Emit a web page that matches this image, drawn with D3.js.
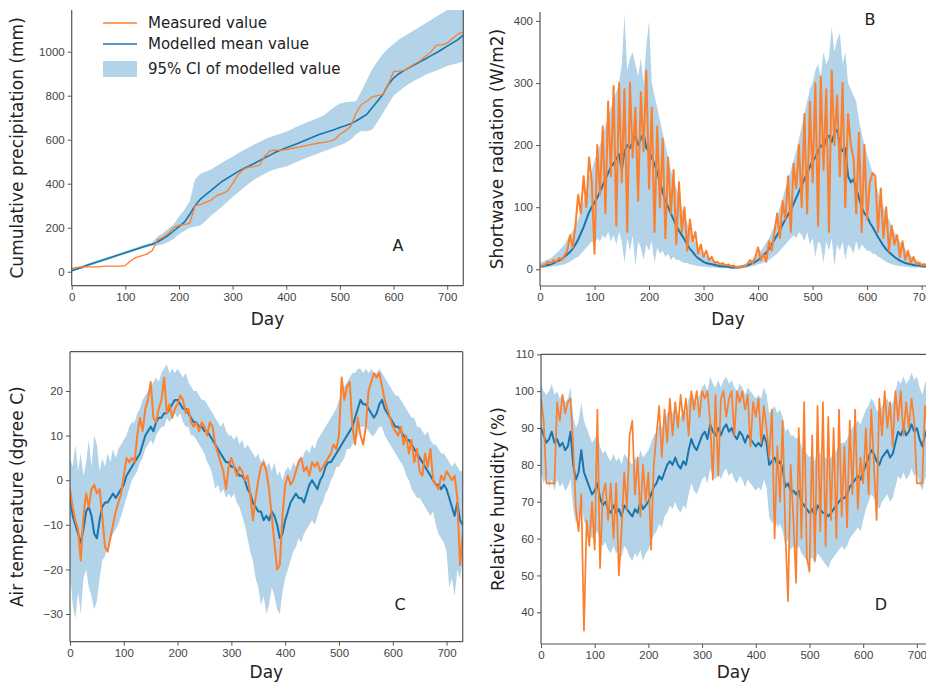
<!DOCTYPE html>
<html>
<head>
<meta charset="utf-8">
<script src="https://cdn.jsdelivr.net/npm/d3@7"></script>
<style>
  body { margin: 0; background: #fff; }
  svg { font-family: "DejaVu Sans", sans-serif; }
</style>
</head>
<body>
<svg id="chart" width="926" height="687"></svg>
<script>
// ---- data ----
// panel A is sampled every 10 days, panels B-D every 5 days
const daysA = d3.range(0, 731, 10);
const days5 = d3.range(0, 731, 5);

// A: cumulative precipitation (mm)
const precipMeasured = [
  15, 20, 22, 22, 22, 22, 25, 25, 25, 25,
  28, 50, 65, 72, 80, 95, 145, 155, 175, 200,
  210, 215, 220, 300, 305, 315, 325, 345, 355, 365,
  400, 440, 465, 475, 478, 485, 525, 550, 552, 552,
  555, 560, 565, 570, 575, 580, 585, 588, 592, 600,
  625, 640, 660, 720, 760, 775, 795, 800, 805, 850,
  910, 912, 915, 930, 945, 960, 980, 1000, 1030, 1030,
  1040, 1060, 1080, 1090
];
const precipModel = [
  5, 12, 20, 30, 38, 46, 54, 62, 70, 78,
  86, 94, 102, 110, 118, 125, 135, 150, 165, 185,
  205, 225, 260, 300, 330, 350, 370, 390, 410, 425,
  440, 455, 468, 480, 492, 505, 518, 530, 543, 553,
  563, 572, 582, 592, 602, 612, 622, 630, 638, 646,
  655, 663, 672, 685, 700, 715, 745, 775, 805, 850,
  880, 900, 915, 928, 942, 955, 968, 982, 995, 1010,
  1025, 1040, 1055, 1075
];
const precipLow = [
  0, 8, 15, 25, 32, 40, 48, 56, 64, 72,
  80, 88, 96, 104, 111, 118, 120, 125, 135, 150,
  170, 185, 200, 205, 210, 232, 255, 275, 295, 318,
  340, 360, 380, 400, 418, 432, 445, 458, 467, 473,
  478, 488, 500, 510, 520, 528, 538, 548, 557, 566,
  575, 585, 600, 625, 640, 638, 645, 680, 720, 760,
  800, 820, 840, 855, 870, 882, 895, 905, 915, 925,
  935, 942, 948, 955
];
const precipHigh = [
  12, 20, 28, 37, 45, 53, 61, 69, 77, 85,
  94, 102, 110, 118, 126, 133, 160, 175, 195, 215,
  250, 280, 320, 420, 445, 455, 465, 480, 495, 510,
  522, 538, 552, 565, 578, 590, 602, 612, 620, 628,
  636, 648, 660, 670, 680, 690, 700, 710, 730, 750,
  765, 770, 772, 775, 820, 870, 920, 955, 990, 1015,
  1035, 1055, 1070, 1085, 1100, 1115, 1130, 1145, 1160, 1175,
  1190, 1205, 1220, 1240
];

// B: shortwave radiation (W/m2)
const radMeasured = [
  5, 6, 8, 12, 10, 15, 12, 18, 15, 22,
  30, 55, 35, 70, 120, 90, 150, 100, 180, 140,
  25, 200, 120, 230, 90, 270, 150, 295, 70, 300,
  140, 290, 60, 300, 180, 260, 110, 285, 190, 320,
  130, 260, 60, 230, 100, 210, 50, 180, 90, 160,
  40, 140, 60, 100, 30, 80, 45, 60, 25, 40,
  20, 30, 15, 20, 10, 12, 8, 10, 6, 8,
  5, 6, 3, 4, 3, 5, 8, 15, 10, 20,
  35, 15, 25, 12, 45, 30, 60, 90, 50, 110,
  80, 150, 60, 170, 130, 200, 100, 250, 90, 270,
  140, 300, 70, 310, 160, 290, 60, 320, 200, 280,
  150, 300, 100, 250, 200, 180, 90, 220, 60, 200,
  80, 140, 155, 150, 60, 130, 50, 100, 30, 70,
  40, 55, 20, 45, 15, 30, 10, 20, 8, 10,
  6, 8, 5, 6, 5, 5, 5
];
const radModel = [
  5, 5, 6, 7, 8, 10, 12, 14, 17, 20,
  24, 28, 33, 40, 48, 58, 68, 80, 92, 100,
  108, 115, 125, 135, 145, 155, 165, 170, 178, 185,
  160, 190, 200, 195, 205, 215, 200, 210, 220, 195,
  190, 180, 170, 155, 140, 125, 110, 100, 90, 80,
  70, 62, 55, 48, 40, 33, 28, 22, 18, 15,
  12, 10, 9, 8, 7, 6, 5, 5, 4, 4,
  3, 3, 3, 3, 4, 5, 6, 8, 10, 12,
  15, 18, 22, 27, 33, 40, 48, 55, 63, 72,
  80, 88, 95, 105, 115, 125, 135, 145, 155, 165,
  175, 180, 190, 200, 195, 210, 215, 205, 220, 225,
  200, 190, 195, 150, 140, 145, 130, 115, 100, 90,
  85, 75, 68, 60, 52, 45, 38, 32, 28, 24,
  20, 17, 14, 12, 10, 9, 8, 7, 6, 6,
  5, 5, 5, 5, 5, 5, 5
];
const radLow = [
  2, 2, 3, 3, 4, 5, 5, 6, 7, 8,
  10, 12, 15, 18, 20, 25, 30, 35, 40, 45,
  40, 50, 45, 55, 50, 60, 45, 55, 40, 60,
  45, 10, 50, 30, 55, 5, 45, 35, 15, 40,
  30, 45, 10, 35, 25, 30, 20, 25, 15, 20,
  15, 15, 12, 10, 10, 8, 7, 6, 5, 5,
  4, 4, 3, 3, 3, 2, 2, 2, 2, 2,
  1, 1, 1, 1, 2, 2, 3, 4, 5, 6,
  8, 9, 11, 13, 15, 18, 22, 25, 30, 35,
  40, 45, 50, 55, 50, 60, 55, 45, 60, 40,
  50, 20, 45, 40, 10, 45, 30, 50, 5, 40,
  30, 45, 15, 40, 35, 25, 45, 30, 40, 35,
  30, 30, 25, 25, 20, 18, 15, 12, 10, 8,
  7, 6, 5, 5, 4, 4, 3, 3, 3, 3,
  2, 2, 2, 2, 2, 2, 2
];
const radHigh = [
  10, 12, 14, 16, 18, 22, 26, 30, 35, 40,
  48, 55, 62, 70, 80, 95, 110, 125, 150, 160,
  175, 190, 200, 215, 230, 245, 260, 275, 285, 300,
  330, 410, 320, 340, 350, 330, 310, 340, 300, 360,
  400, 300, 280, 260, 240, 220, 200, 180, 160, 145,
  130, 115, 100, 88, 75, 62, 52, 44, 36, 30,
  25, 22, 19, 16, 14, 12, 10, 9, 8, 7,
  6, 6, 6, 6, 7, 8, 10, 13, 16, 20,
  25, 30, 36, 43, 50, 60, 70, 85, 100, 115,
  130, 145, 160, 175, 190, 210, 230, 250, 270, 290,
  300, 320, 330, 310, 350, 330, 340, 390, 350, 370,
  380, 330, 350, 300, 290, 280, 270, 240, 220, 200,
  185, 170, 155, 140, 125, 110, 100, 90, 80, 70,
  60, 52, 45, 38, 32, 27, 22, 18, 15, 13,
  11, 10, 9, 8, 8, 8, 8
];

// C: air temperature (degree C)
const tempMeasured = [
  -2, -6, -9, -11, -18, -8, -3, -6, -2, -1,
  -3, -2, -8, -15, -16, -13, -10, -7, -5, -3,
  1, 5, 4, 5, 4, 10, 14, 11, 16, 18,
  22, 14, 13, 16, 18, 23, 15, 17, 14, 16,
  17, 19, 18, 15, 16, 13, 12, 13, 11, 13,
  12, 10, 13, 12, 8, 6, 4, 2, -2, 3,
  5, 3, 1, 3, 2, 0, 1, -3, -9, -4,
  0, 3, 4, 2, -2, -8, -14, -20, -19, -8,
  -1, 1, -1, 0, 2, 4, 5, 2, 3, 1,
  4, 3, 4, 2, 3, 4, 5, 6, 8, 7,
  10, 23, 18, 21, 22, 12, 8, 14, 10, 8,
  12, 20, 22, 24, 23, 24, 21, 18, 16, 14,
  12, 11, 10, 12, 8, 10, 6, 9, 4, 7,
  2, 1, 6, 3, 7, 0, -1, -2, 1, 0,
  2, 1, 0, 1, -4, -19, -12
];
const tempModel = [
  -4, -8, -10, -12, -14, -11, -7, -6, -8, -12,
  -13, -9, -6, -5, -5, -4, -3, -4, -3, -2,
  -1, 1, 2, 3, 4, 5, 6, 8, 10, 11,
  12, 11, 13, 14, 14, 15, 15, 16, 17, 18,
  18, 17, 16, 16, 15, 14, 13, 13, 12, 12,
  11, 11, 10, 9, 8, 7, 6, 5, 4, 4,
  3, 3, 2, 1, 1, 0, -2, -3, -5, -6,
  -7, -7, -9, -8, -9, -7, -8, -10, -13, -12,
  -9, -7, -5, -4, -3, -4, -4, -5, -3, -1,
  0, -1, -2, 0, 1, 3, 4, 4, 5, 6,
  7, 8, 9, 10, 11, 12, 14, 16, 18, 17,
  17, 16, 15, 14, 15, 17, 18, 16, 15, 14,
  13, 12, 12, 11, 10, 9, 9, 8, 7, 6,
  5, 4, 3, 2, 1, 0, -1, -1, -2, -1,
  -2, -4, -6, -8, -5, -9, -10
];
const tempLow = [
  -20, -28, -31, -25, -30, -22, -20, -24, -26, -29,
  -27, -22, -18, -17, -15, -13, -12, -11, -10, -8,
  -6, -4, -2, 0, 1, 2, 4, 5, 7, 8,
  9, 8, 10, 11, 12, 12, 14, 13, 14, 15,
  14, 15, 13, 12, 12, 10, 10, 9, 8, 7,
  6, 4, 3, 1, -2, -1, -3, -2, -4, -3,
  -4, -3, -5, -6, -8, -10, -13, -16, -18, -22,
  -24, -28, -26, -30, -28, -24, -26, -29, -30, -25,
  -22, -20, -18, -16, -15, -13, -14, -12, -11, -10,
  -9, -10, -8, -6, -5, -3, -2, 0, 1, 3,
  3, 4, 5, 7, 7, 8, 9, 10, 12, 12,
  12, 11, 10, 10, 11, 12, 12, 10, 9, 8,
  7, 6, 5, 4, 3, 1, 0, -2, -3, -4,
  -4, -5, -6, -7, -8, -7, -10, -12, -13, -14,
  -16, -24, -22, -26, -20, -22, -18
];
const tempHigh = [
  5, 3, 8, 2, 6, 1, 4, 9, 3, 10,
  8, 2, 5, 3, 6, 4, 7, 5, 7, 8,
  9, 10, 12, 13, 13, 15, 16, 18, 19, 20,
  21, 22, 23, 22, 24, 25, 26, 24, 25, 24,
  25, 24, 23, 24, 22, 21, 20, 20, 19, 18,
  18, 17, 16, 15, 14, 13, 12, 13, 11, 10,
  10, 9, 10, 8, 9, 7, 8, 7, 6, 5,
  6, 4, 5, 3, 4, 2, 4, 1, 2, 0,
  2, 3, 2, 4, 3, 5, 4, 6, 7, 6,
  8, 7, 9, 10, 11, 12, 13, 14, 15, 16,
  18, 19, 21, 22, 23, 24, 24, 25, 25, 24,
  25, 24, 25, 24, 24, 25, 24, 23, 22, 21,
  20, 19, 19, 18, 17, 16, 15, 14, 14, 12,
  12, 11, 10, 11, 9, 8, 8, 7, 6, 6,
  5, 4, 3, 4, 3, 2, 2
];

// D: relative humidity (%)
const rhMeasured = [
  98, 92, 75, 75, 75, 75, 97, 92, 99, 94,
  97, 98, 85, 68, 62, 72, 35, 65, 58, 70,
  57, 95, 52, 72, 75, 65, 75, 60, 75, 50,
  62, 78, 68, 88, 92, 72, 82, 66, 80, 70,
  78, 57, 80, 88, 96, 82, 95, 86, 98, 88,
  97, 90, 99, 92, 98, 88, 100, 95, 100, 93,
  100, 98, 100, 92, 76, 99, 77, 98, 100, 93,
  98, 100, 88, 100, 97, 100, 95, 99, 85, 97,
  93, 98, 86, 96, 90, 82, 95, 60, 85, 70,
  92, 62, 43, 80, 65, 48, 90, 60, 97, 55,
  51, 88, 54, 96, 62, 97, 58, 93, 65, 90,
  60, 95, 66, 85, 63, 92, 72, 95, 68, 82,
  75, 90, 72, 95, 80, 65, 98, 88, 100, 90,
  97, 85, 100, 92, 100, 88, 97, 90, 98, 92,
  75, 75, 75, 96, 90, 98, 92
];
const rhModel = [
  90, 88, 86, 87, 89, 86, 87, 85, 86, 84,
  85, 89, 80, 76, 78, 84, 78, 76, 74, 72,
  73, 75, 71, 69, 70, 68, 67, 69, 67, 68,
  66, 69, 68, 67, 66, 68, 67, 70, 68, 69,
  70, 72, 74, 75, 77, 76, 78, 80, 81, 80,
  82, 80, 79, 81, 80, 84, 87, 85, 84, 86,
  88, 89, 87, 91, 89, 88, 90, 88, 90, 91,
  89, 90, 88, 87, 89, 88, 86, 88, 87, 86,
  85, 86, 85, 88, 86, 80, 81, 82, 80, 81,
  79, 74, 75, 73, 73, 72, 73, 70, 69, 68,
  67, 68, 66, 69, 68, 67, 67, 66, 67, 68,
  69, 70, 71, 71, 72, 74, 75, 76, 77, 76,
  78, 80, 82, 84, 83, 81, 80, 82, 83, 84,
  82, 83, 86, 89, 88, 90, 88, 89, 91, 89,
  90, 87, 85, 88, 90, 89, 88
];
const rhLow = [
  78, 75, 77, 74, 76, 73, 76, 74, 75, 73,
  74, 76, 68, 64, 66, 70, 65, 63, 62, 60,
  61, 62, 59, 58, 59, 57, 56, 58, 56, 57,
  55, 58, 57, 55, 54, 56, 55, 57, 54, 56,
  57, 59, 61, 62, 64, 63, 66, 67, 69, 68,
  70, 68, 67, 69, 68, 72, 75, 73, 72, 74,
  76, 77, 75, 79, 77, 76, 78, 76, 78, 79,
  77, 78, 76, 75, 77, 76, 74, 76, 75, 74,
  73, 74, 73, 76, 74, 66, 64, 66, 63, 64,
  62, 58, 60, 57, 58, 57, 58, 56, 55, 54,
  54, 55, 53, 56, 55, 54, 53, 52, 54, 55,
  56, 57, 58, 57, 58, 60, 61, 62, 63, 62,
  65, 68, 70, 72, 71, 69, 68, 70, 71, 72,
  70, 71, 74, 77, 76, 78, 76, 77, 79, 77,
  78, 75, 73, 76, 78, 77, 76
];
const rhHigh = [
  102, 100, 99, 100, 102, 99, 100, 98, 99, 97,
  98, 101, 93, 90, 92, 97, 92, 90, 88, 86,
  87, 89, 85, 83, 84, 82, 81, 83, 81, 82,
  80, 83, 82, 81, 80, 82, 81, 84, 82, 83,
  84, 86, 88, 89, 91, 90, 92, 94, 95, 94,
  96, 94, 93, 95, 94, 98, 100, 98, 97, 99,
  101, 102, 100, 104, 102, 101, 103, 101, 103, 104,
  102, 103, 101, 100, 102, 101, 99, 101, 100, 99,
  98, 99, 98, 101, 99, 94, 95, 96, 94, 95,
  93, 89, 90, 88, 88, 87, 88, 85, 84, 83,
  82, 83, 81, 84, 83, 82, 82, 81, 82, 83,
  84, 85, 86, 86, 87, 89, 90, 91, 92, 91,
  93, 95, 96, 98, 97, 95, 94, 96, 97, 98,
  96, 97, 100, 103, 102, 104, 102, 103, 105, 103,
  104, 101, 99, 102, 104, 103, 102
];

const xTicks = [0, 100, 200, 300, 400, 500, 600, 700];

// ---- styling ----
const orange = '#fb7f2c';
const blue = '#1b75ad';
const bandColor = '#b2d3e8';
const spineColor = '#555';

const svg = d3.select('#chart');

const panels = [
  {
    id: 'A', days: daysA, measured: precipMeasured, model: precipModel, low: precipLow, high: precipHigh,
    left: 71.7, right: 463.3, top: 10, bottom: 285.7, yDomain: [-63.6, 1189.5],
    yTicks: [0, 200, 400, 600, 800, 1000], yLabel: 'Cumulative precipitation (mm)',
    yLabelX: 18, dayY: 320, letterPos: [398, 246], spines: ['left', 'bottom', 'right'],
    lwMeasured: 1.3, lwModel: 1.6
  },
  {
    id: 'B', days: days5, measured: radMeasured, model: radModel, low: radLow, high: radHigh,
    left: 540, right: 938, top: 12, bottom: 286, yDomain: [-26.9, 414.3],
    yTicks: [0, 100, 200, 300, 400], yLabel: 'Shortwave radiation (W/m2)',
    yLabelX: 498, dayY: 320, letterPos: [870, 20], spines: ['left', 'bottom'],
    lwMeasured: 2, lwModel: 2
  },
  {
    id: 'C', days: days5, measured: tempMeasured, model: tempModel, low: tempLow, high: tempHigh,
    left: 70, right: 462.7, top: 351.7, bottom: 641.7, yDomain: [-36.2, 28.8],
    yTicks: [-30, -20, -10, 0, 10, 20], yLabel: 'Air temperature (dgree C)',
    yLabelX: 18, dayY: 673, letterPos: [400, 605], spines: ['left', 'bottom', 'right', 'top'],
    lwMeasured: 2, lwModel: 2
  },
  {
    id: 'D', days: days5, measured: rhMeasured, model: rhModel, low: rhLow, high: rhHigh,
    left: 541, right: 933, top: 354.3, bottom: 644, yDomain: [31.4, 110],
    yTicks: [40, 50, 60, 70, 80, 90, 100, 110], yLabel: 'Relative humidity (%)',
    yLabelX: 499, dayY: 673, letterPos: [881, 605], spines: ['left', 'bottom', 'right', 'top'],
    lwMeasured: 1.7, lwModel: 2
  }
];

function drawPanel(p) {
  const g = svg.append('g').attr('class', 'panel-' + p.id);
  const x = d3.scaleLinear().domain([0, 730]).range([p.left, p.right]);
  const y = d3.scaleLinear().domain(p.yDomain).range([p.bottom, p.top]);

  const rows = p.days.map((d, i) => ({
    day: d, measured: p.measured[i], model: p.model[i], low: p.low[i], high: p.high[i]
  }));

  svg.append('clipPath').attr('id', 'clip-' + p.id)
    .append('rect')
    .attr('x', p.left).attr('y', p.top)
    .attr('width', p.right - p.left).attr('height', p.bottom - p.top);

  const plot = g.append('g').attr('clip-path', `url(#clip-${p.id})`);

  // 95% CI band
  plot.append('path')
    .datum(rows)
    .attr('fill', bandColor)
    .attr('d', d3.area().x(d => x(d.day)).y0(d => y(d.low)).y1(d => y(d.high)));

  // modelled mean
  plot.append('path')
    .datum(rows)
    .attr('fill', 'none')
    .attr('stroke', blue)
    .attr('stroke-width', p.lwModel)
    .attr('stroke-linejoin', 'round')
    .attr('d', d3.line().x(d => x(d.day)).y(d => y(d.model)));

  // measured
  plot.append('path')
    .datum(rows)
    .attr('fill', 'none')
    .attr('stroke', orange)
    .attr('stroke-width', p.lwMeasured)
    .attr('stroke-linejoin', 'round')
    .attr('d', d3.line().x(d => x(d.day)).y(d => y(d.measured)));

  // axes
  const xAxis = g.append('g')
    .attr('transform', `translate(0,${p.bottom})`)
    .call(d3.axisBottom(x).tickValues(xTicks).tickSize(4).tickPadding(3).tickSizeOuter(0));
  const yAxis = g.append('g')
    .attr('transform', `translate(${p.left},0)`)
    .call(d3.axisLeft(y).tickValues(p.yTicks).tickSize(4).tickPadding(3).tickSizeOuter(0)
      .tickFormat(d => d < 0 ? '\u2212' + Math.abs(d) : d));
  [xAxis, yAxis].forEach(a => {
    a.select('.domain').remove();
    a.selectAll('line').attr('stroke', spineColor);
    a.selectAll('text').attr('fill', '#444').style('font-size', '11.5px');
  });

  // spines
  const spineDefs = {
    left: [p.left, p.top, p.left, p.bottom],
    right: [p.right, p.top, p.right, p.bottom],
    top: [p.left, p.top, p.right, p.top],
    bottom: [p.left, p.bottom, p.right, p.bottom]
  };
  p.spines.forEach(s => {
    const [x1, y1, x2, y2] = spineDefs[s];
    g.append('line')
      .attr('x1', x1).attr('y1', y1).attr('x2', x2).attr('y2', y2)
      .attr('stroke', spineColor).attr('stroke-width', 1.2);
  });

  // labels
  g.append('text')
    .attr('x', (p.left + Math.min(p.right, 926)) / 2 + (p.id === 'B' ? -5 : 0))
    .attr('y', p.dayY)
    .attr('text-anchor', 'middle')
    .attr('dominant-baseline', 'middle')
    .style('font-size', '17px')
    .attr('fill', '#222')
    .text('Day');

  g.append('text')
    .attr('transform', `translate(${p.yLabelX},${(p.top + p.bottom) / 2}) rotate(-90)`)
    .attr('text-anchor', 'middle')
    .attr('dominant-baseline', 'middle')
    .style('font-size', '17px')
    .attr('fill', '#222')
    .text(p.yLabel);

  g.append('text')
    .attr('x', p.letterPos[0]).attr('y', p.letterPos[1])
    .attr('text-anchor', 'middle')
    .attr('dominant-baseline', 'middle')
    .style('font-size', '16px')
    .attr('fill', '#222')
    .text(p.id);
}

panels.forEach(drawPanel);

// legend (panel A)
const legend = svg.append('g').attr('class', 'legend');
const legendItems = [
  { label: 'Measured value', type: 'line', color: orange, y: 23 },
  { label: 'Modelled mean value', type: 'line', color: blue, y: 44 },
  { label: '95% CI of modelled value', type: 'patch', color: bandColor, y: 69 }
];
legendItems.forEach(it => {
  if (it.type === 'line') {
    legend.append('line')
      .attr('x1', 103).attr('x2', 137).attr('y1', it.y).attr('y2', it.y)
      .attr('stroke', it.color).attr('stroke-width', 1.6);
  } else {
    legend.append('rect')
      .attr('x', 103).attr('y', it.y - 8).attr('width', 34).attr('height', 16)
      .attr('fill', it.color);
  }
  legend.append('text')
    .attr('x', 148).attr('y', it.y)
    .attr('dominant-baseline', 'middle')
    .style('font-size', '15px')
    .attr('fill', '#222')
    .text(it.label);
});
</script>
</body>
</html>
